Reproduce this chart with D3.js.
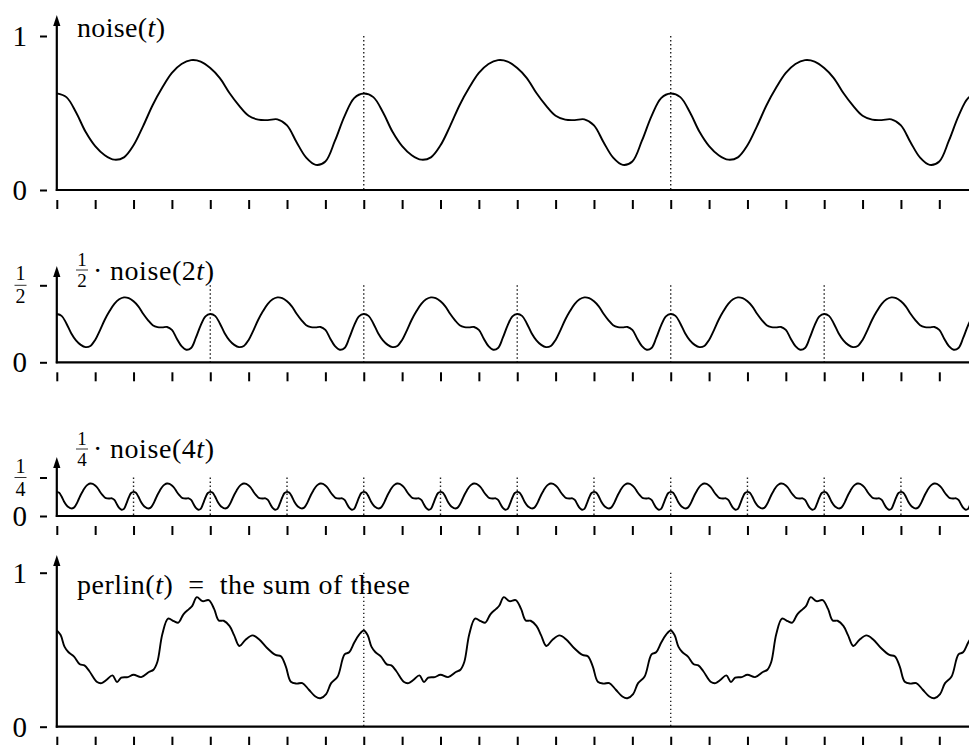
<!DOCTYPE html>
<html>
<head>
<meta charset="utf-8">
<script src="https://cdn.jsdelivr.net/npm/d3@7"></script>
<style>
body { margin: 0; background: #fff; }
svg text { font-family: "Liberation Serif", "Times New Roman", serif; fill: #000; }
</style>
</head>
<body>
<svg id="chart"></svg>
<script>
const noiseStep = 0.25;
const noiseValues = [0.627, 0.603, 0.505, 0.378, 0.285, 0.226, 0.197, 0.212, 0.290, 0.415, 0.552, 0.665,
    0.760, 0.818, 0.843, 0.834, 0.792, 0.727, 0.630, 0.548, 0.482, 0.457, 0.454, 0.459, 0.420, 0.310,
    0.210, 0.163, 0.185, 0.320, 0.480, 0.597];
const period = 8;

// perlin(t) over one period
const perlinT = [0, 0.1, 0.2, 0.3, 0.45, 0.6, 0.72, 0.85, 1.05, 1.17, 1.3, 1.45, 1.57, 1.68, 1.85, 2.0,
    2.2, 2.4, 2.52, 2.62, 2.75, 2.9, 3.05, 3.17, 3.3, 3.45, 3.53, 3.65, 3.8, 3.96, 4.1, 4.22, 4.35, 4.5,
    4.62, 4.76, 4.92, 5.1, 5.27, 5.48, 5.7, 5.84, 5.97, 6.1, 6.25, 6.4, 6.57, 6.74, 6.87, 7.02, 7.15,
    7.32, 7.5, 7.62, 7.75, 7.88];
const perlinV = [0.625, 0.595, 0.52, 0.485, 0.455, 0.405, 0.398, 0.36, 0.29, 0.283, 0.305, 0.333, 0.29,
    0.318, 0.322, 0.337, 0.322, 0.355, 0.37, 0.42, 0.6, 0.702, 0.685, 0.676, 0.73, 0.765, 0.785, 0.841,
    0.815, 0.822, 0.765, 0.69, 0.688, 0.655, 0.595, 0.524, 0.565, 0.593, 0.568, 0.511, 0.466, 0.458,
    0.39, 0.292, 0.28, 0.283, 0.24, 0.196, 0.185, 0.212, 0.283, 0.326, 0.47, 0.483, 0.545, 0.598];

const xTicks = d3.range(0, 24);

function init() {
    const w = 969;
    const h = 745;

    const svg = d3.select("#chart")
        .attr("width", w)
        .attr("height", h);

    const x = d3.scaleLinear()
        .domain([0, 23])
        .range([56.8, 939.3]);
    const tMax = x.invert(w) + 0.5;

    // layout of the four strips
    const panels = [
        { base: 190, tip: 15, top: 1, freq: 1, dots: [8, 16] },
        { base: 362.3, tip: 266, top: 1 / 2, freq: 2, dots: [4, 8, 12, 16, 20] },
        { base: 516, tip: 457, top: 1 / 4, freq: 4, dots: [2, 4, 6, 8, 10, 12, 14, 16, 18, 20, 22] },
        { base: 726.7, tip: 555, top: 1, freq: 0, dots: [8, 16] }
    ];

    panels.forEach(function (p, i) {
        const y = d3.scaleLinear()
            .domain([0, 1])
            .range([p.base, p.base - 154]);

        const g = svg.append("g");

        // dotted period markers
        g.selectAll(".dot")
            .data(p.dots)
            .enter()
            .append("line")
            .attr("x1", d => x(d))
            .attr("x2", d => x(d))
            .attr("y1", y(p.top))
            .attr("y2", p.base)
            .attr("stroke", "#222")
            .attr("stroke-width", 1.4)
            .attr("stroke-dasharray", "1.4,2.6");

        // curve
        let pts = [];
        if (p.freq > 0) {
            const n = noiseValues.length;
            const total = Math.ceil(tMax * p.freq / noiseStep);
            for (let k = 0; k <= total; k++) {
                pts.push([k * noiseStep / p.freq, noiseValues[k % n] / p.freq]);
            }
        } else {
            for (let rep = 0; rep < 4; rep++) {
                for (let j = 0; j < perlinT.length; j++) {
                    pts.push([perlinT[j] + rep * period, perlinV[j]]);
                }
            }
        }

        const line = d3.line()
            .x(d => x(d[0]))
            .y(d => y(d[1]))
            .curve(d3.curveCatmullRom.alpha(0.5));

        g.append("path")
            .datum(pts)
            .attr("d", line)
            .attr("fill", "none")
            .attr("stroke", "#000")
            .attr("stroke-width", 1.9)
            .attr("stroke-linejoin", "round");

        // horizontal axis
        g.append("line")
            .attr("x1", x(0) - 1)
            .attr("x2", w)
            .attr("y1", p.base)
            .attr("y2", p.base)
            .attr("stroke", "#000")
            .attr("stroke-width", 2.2);

        g.append("g")
            .attr("transform", "translate(0," + (p.base + 10) + ")")
            .call(d3.axisBottom(x).tickValues(xTicks).tickSize(9).tickSizeOuter(0).tickFormat(""))
            .call(a => a.select(".domain").remove())
            .selectAll("line")
            .attr("stroke", "#000")
            .attr("stroke-width", 2);

        // vertical axis with arrow
        g.append("line")
            .attr("x1", x(0))
            .attr("x2", x(0))
            .attr("y1", p.base + 1)
            .attr("y2", p.tip + 6)
            .attr("stroke", "#000")
            .attr("stroke-width", 2.2);
        g.append("path")
            .attr("d", "M" + x(0) + "," + p.tip + "L" + (x(0) + 3.6) + "," + (p.tip + 11) +
                "L" + (x(0) - 3.6) + "," + (p.tip + 11) + "Z")
            .attr("fill", "#000");

        g.append("g")
            .attr("transform", "translate(47,0)")
            .call(d3.axisLeft(y).tickValues([0, p.top]).tickSize(7).tickFormat(""))
            .call(a => a.select(".domain").remove())
            .selectAll("line")
            .attr("stroke", "#000")
            .attr("stroke-width", 2);

        // tick labels
        g.append("text")
            .attr("x", 27)
            .attr("y", y(0) + 10)
            .attr("text-anchor", "end")
            .attr("font-size", 29)
            .text("0");
        if (p.top === 1) {
            g.append("text")
                .attr("x", 27)
                .attr("y", y(1) + 10)
                .attr("text-anchor", "end")
                .attr("font-size", 29)
                .text("1");
        } else {
            fraction(g, 20.5, y(p.top), "1", String(1 / p.top), 20, 5, 18);
        }
    });

    // titles
    title(svg, 77, 37, [["noise(", ""], ["t", "italic"], [")", ""]], 88);

    fraction(svg, 82, 270, "1", "2", 19, 4.5, 17);
    svg.append("text").attr("x", 93).attr("y", 280).attr("font-size", 28).text("·");
    title(svg, 110, 280, [["noise(2", ""], ["t", "italic"], [")", ""]], 104);

    fraction(svg, 82, 449, "1", "4", 19, 4.5, 17);
    svg.append("text").attr("x", 93).attr("y", 458).attr("font-size", 28).text("·");
    title(svg, 110, 458, [["noise(4", ""], ["t", "italic"], [")", ""]], 104);

    title(svg, 77, 594, [["perlin(", ""], ["t", "italic"], [")  =  the sum of these", ""]], 333);
}

function title(sel, x, y, parts, len) {
    const t = sel.append("text")
        .attr("x", x)
        .attr("y", y)
        .attr("font-size", 28)
        .attr("textLength", len)
        .attr("lengthAdjust", "spacing")
        .attr("xml:space", "preserve");
    parts.forEach(function (part) {
        t.append("tspan")
            .attr("font-style", part[1] === "italic" ? "italic" : "normal")
            .text(part[0]);
    });
}

function fraction(sel, cx, cy, num, den, size, up, down) {
    sel.append("text")
        .attr("x", cx)
        .attr("y", cy - up)
        .attr("text-anchor", "middle")
        .attr("font-size", size)
        .text(num);
    sel.append("line")
        .attr("x1", cx - 6)
        .attr("x2", cx + 6)
        .attr("y1", cy)
        .attr("y2", cy)
        .attr("stroke", "#000")
        .attr("stroke-width", 0.8);
    sel.append("text")
        .attr("x", cx)
        .attr("y", cy + down)
        .attr("text-anchor", "middle")
        .attr("font-size", size)
        .text(den);
}

window.onload = init;
</script>
</body>
</html>
